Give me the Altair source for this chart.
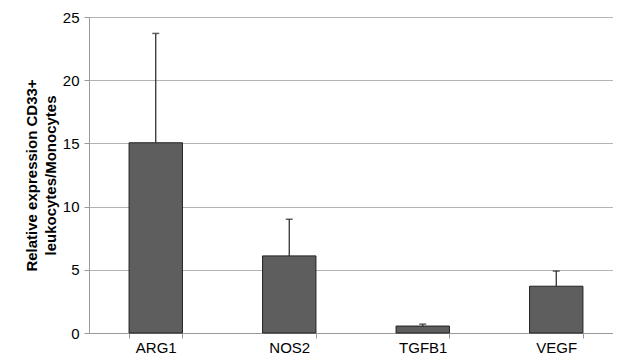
import altair as alt
import pandas as pd

genes = ["ARG1", "NOS2", "TGFB1", "VEGF"]
means = [15.05, 6.1, 0.55, 3.7]
errors = [8.65, 2.9, 0.15, 1.2]

df = pd.DataFrame({"gene": genes, "mean": means, "err": errors})
df["upper"] = df["mean"] + df["err"]

FONT = "Liberation Sans"

x = alt.X("gene:N", sort=genes, title=None,
          scale=alt.Scale(paddingInner=0.6, paddingOuter=0.3, range=[0, 534]),
          axis=alt.Axis(labelAngle=0, labelFont=FONT, labelFontSize=15, labelColor="#000",
                        labelPadding=2, tickBand="extent", tickSize=5, tickColor="#999",
                        domainColor="#999", grid=False))

y_axis = alt.Axis(values=[0, 5, 10, 15, 20, 25], labelFont=FONT, labelFontSize=15,
                  labelColor="#000", labelPadding=5, tickSize=5, tickColor="#999",
                  domainColor="#999", gridColor="#b3b3b3", gridWidth=1,
                  title=["Relative expression CD33+", "leukocytes/Monocytes"],
                  titleFont=FONT, titleFontSize=15, titleFontWeight="bold", titleColor="#000",
                  titlePadding=4, titleLineHeight=19)

bars = alt.Chart(df).mark_bar(color="#5e5e5e", stroke="#222", strokeWidth=1).encode(
    x=x,
    y=alt.Y("mean:Q", scale=alt.Scale(domain=[0, 25], nice=False), axis=y_axis),
)

rules = alt.Chart(df).mark_rule(color="#222", strokeWidth=1.2).encode(
    x=alt.X("gene:N", sort=genes),
    y="mean:Q",
    y2="upper:Q",
)

caps = alt.Chart(df).mark_tick(color="#222", size=7, thickness=1.5, orient="horizontal").encode(
    x=alt.X("gene:N", sort=genes),
    y="upper:Q",
)

chart = alt.layer(bars, rules, caps).properties(
    width=524, height=316,
    autosize=alt.AutoSizeParams(type="none"),
    padding={"left": 81, "top": 9, "right": 0, "bottom": 21},
).configure_view(stroke=None).configure(background="white")

chart.save("out.html", embed_options={"renderer": "svg", "actions": False})
